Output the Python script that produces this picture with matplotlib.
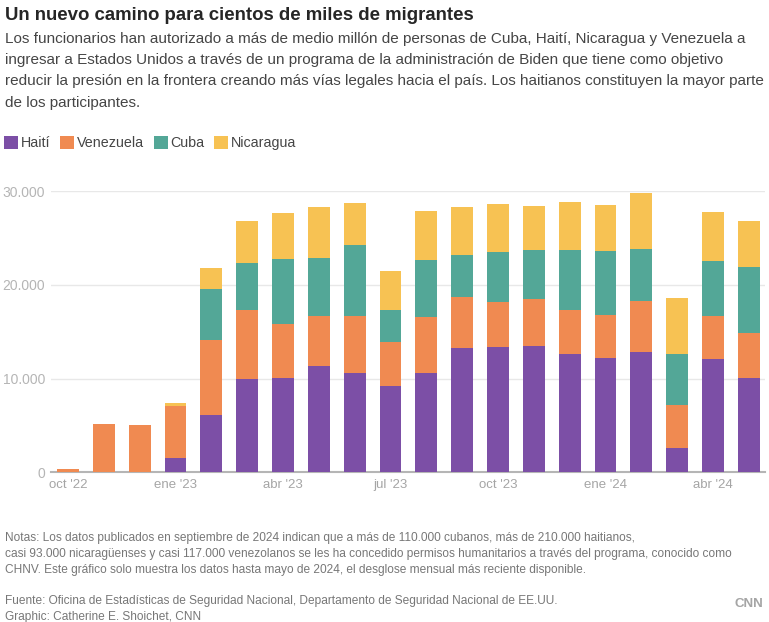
import numpy as np
import matplotlib
matplotlib.use('Agg')
import matplotlib.pyplot as plt
from matplotlib.ticker import FuncFormatter

plt.rcParams['font.family'] = ['Liberation Sans', 'DejaVu Sans']

# monthly authorizations, oct 2022 - may 2024
months = ['oct 22', 'nov 22', 'dic 22', 'ene 23', 'feb 23', 'mar 23', 'abr 23', 'may 23',
          'jun 23', 'jul 23', 'ago 23', 'sep 23', 'oct 23', 'nov 23', 'dic 23', 'ene 24',
          'feb 24', 'mar 24', 'abr 24', 'may 24']
haiti = [0, 0, 0, 1560, 6120, 9960, 10070, 11350, 10600, 9210, 10600, 13270,
         13380, 13490, 12630, 12200, 12840, 2590, 12090, 10070]
venezuela = [350, 5150, 5050, 5520, 8000, 7400, 5800, 5370, 6120, 4700, 5980, 5440,
             4800, 5010, 4730, 4590, 5450, 4600, 4630, 4800]
cuba = [0, 0, 0, 0, 5450, 4990, 6900, 6160, 7550, 3420, 6090, 4490,
        5340, 5240, 6380, 6840, 5550, 5440, 5840, 7050]
nicaragua = [0, 0, 0, 320, 2240, 4480, 4910, 5440, 4480, 4170, 5220, 5120,
             5120, 4690, 5120, 4910, 5980, 5980, 5220, 4910]

tick_idx = [0, 3, 6, 9, 12, 15, 18]
tick_labels = ["oct '22", "ene '23", "abr '23", "jul '23", "oct '23", "ene '24", "abr '24"]

series = [('Haití', haiti, '#7c4fa6'),
          ('Venezuela', venezuela, '#f08a51'),
          ('Cuba', cuba, '#53a797'),
          ('Nicaragua', nicaragua, '#f7c253')]

W, H = 769, 622
fig = plt.figure(figsize=(W / 100, H / 100), dpi=100)
ax = fig.add_axes([51 / W, 1 - 472.3 / H, 714 / W, 281 / H])

x = np.arange(len(months))
bottom = np.zeros(len(months))
handles = []
for name, vals, color in series:
    vals = np.array(vals, dtype=float)
    b = ax.bar(x, vals, 0.61, bottom=bottom, color=color, label=name, zorder=3)
    handles.append(b)
    bottom += vals

ax.set_xlim(-0.474, 19.45)
ax.set_ylim(0, 30000)
ax.set_yticks([0, 10000, 20000, 30000])
ax.yaxis.set_major_formatter(FuncFormatter(lambda v, p: f'{int(v):,}'.replace(',', '.')))
ax.set_xticks(tick_idx)
ax.set_xticklabels(tick_labels)
ax.grid(axis='y', color='#e8e8e8', linewidth=1, zorder=0)
for s in ['top', 'right', 'left']:
    ax.spines[s].set_visible(False)
ax.spines['bottom'].set_color('#b5b5b5')
ax.spines['bottom'].set_linewidth(1.5)
ax.tick_params(axis='y', length=0, pad=4.3, labelsize=10, labelcolor='#b5b5b5')
ax.tick_params(axis='x', length=0, pad=5, labelsize=9.5, labelcolor='#a5a5a5')


def ftext(px, py, s, **kw):
    fig.text(px / W, 1 - py / H, s, va='center', ha=kw.pop('ha', 'left'), **kw)


ftext(5, 16, 'Un nuevo camino para cientos de miles de migrantes',
      fontsize=13.4, fontweight='bold', color='#262626')
sub = ['Los funcionarios han autorizado a más de medio millón de personas de Cuba, Haití, Nicaragua y Venezuela a',
       'ingresar a Estados Unidos a través de un programa de la administración de Biden que tiene como objetivo',
       'reducir la presión en la frontera creando más vías legales hacia el país. Los haitianos constituyen la mayor parte',
       'de los participantes.']
for i, line in enumerate(sub):
    ftext(5, 39 + i * 21.2, line, fontsize=11, color='#454545')

fig.legend(handles=handles, loc='center left', bbox_to_anchor=(4 / W, 1 - 143 / H),
           ncol=4, frameon=False, fontsize=10.3, handlelength=1.0, handleheight=1.0,
           handletextpad=0.2, columnspacing=0.65, borderpad=0, borderaxespad=0,
           labelcolor='#454545')

notes = ['Notas: Los datos publicados en septiembre de 2024 indican que a más de 110.000 cubanos, más de 210.000 haitianos,',
         'casi 93.000 nicaragüenses y casi 117.000 venezolanos se les ha concedido permisos humanitarios a través del programa, conocido como',
         'CHNV. Este gráfico solo muestra los datos hasta mayo de 2024, el desglose mensual más reciente disponible.']
for i, line in enumerate(notes):
    ftext(5, 538 + i * 16.2, line, fontsize=8.6, color='#777777')

ftext(5, 601, 'Fuente: Oficina de Estadísticas de Seguridad Nacional, Departamento de Seguridad Nacional de EE.UU.',
      fontsize=8.6, color='#777777')
ftext(5, 617, 'Graphic: Catherine E. Shoichet, CNN', fontsize=8.6, color='#777777')
ftext(763, 604, 'CNN', fontsize=9.5, fontweight='bold', color='#a5a5a5', ha='right')

fig.savefig('out.png', dpi=100)
